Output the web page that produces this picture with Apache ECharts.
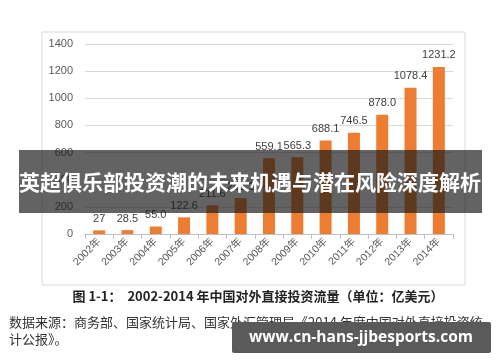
<!DOCTYPE html>
<html>
<head>
<meta charset="utf-8">
<script src="https://cdn.jsdelivr.net/npm/echarts@6/dist/echarts.min.js"></script>
<style>
html,body{margin:0;padding:0;background:#fff;}
#c{width:500px;height:362px;}
</style>
</head>
<body>
<div id="c"></div>
<script>
var categories = ['2002年','2003年','2004年','2005年','2006年','2007年','2008年','2009年','2010年','2011年','2012年','2013年','2014年'];
var values = [27, 28.5, 55.0, 122.6, 211.6, 265.1, 559.1, 565.3, 688.1, 746.5, 878.0, 1078.4, 1231.2];
var valueLabels = ['27','28.5','55.0','122.6','211.6','265.1','559.1','565.3','688.1','746.5','878.0','1078.4','1231.2'];
var bannerTitle = '英超俱乐部投资潮的未来机遇与潜在风险深度解析';
var caption = '图 1-1：  2002-2014 年中国对外直接投资流量（单位：亿美元）';
var source1 = '数据来源：商务部、国家统计局、国家外汇管理局《2014 年度中国对外直接投资统';
var source2 = '计公报》。';
var watermark = 'www.cn-hans-jjbesports.com';

var chart = echarts.init(document.getElementById('c'));
var font = '"Liberation Sans", "Noto Sans CJK SC", sans-serif';
chart.setOption({
  animation: false,
  grid: {left: 85, right: 47, top: 44, bottom: 128},
  xAxis: {
    type: 'category',
    data: categories,
    axisLine: {lineStyle: {color: '#bfbfbf'}},
    axisTick: {show: true, lineStyle: {color: '#bfbfbf'}},
    axisLabel: {rotate: 45, color: '#595959', fontSize: 10.5, fontFamily: font, interval: 0, margin: 6}
  },
  yAxis: {
    type: 'value', min: 0, max: 1400, interval: 200,
    axisLine: {show: false}, axisTick: {show: false},
    axisLabel: {color: '#595959', fontSize: 11, fontFamily: font, margin: 12,
                formatter: function (v) { return String(v); }},
    splitLine: {lineStyle: {color: '#d9d9d9'}}
  },
  series: [{
    type: 'bar',
    data: values,
    barWidth: 12,
    itemStyle: {color: '#ED7D31'},
    label: {
      show: true, position: 'top', distance: 6,
      color: '#404040', fontSize: 11, fontFamily: font,
      formatter: function (p) { return valueLabels[p.dataIndex]; }
    }
  }],
  graphic: [
    {type: 'rect', z: 1, shape: {x: 42, y: 32, width: 423, height: 253},
     style: {fill: 'none', stroke: '#d9d9d9', lineWidth: 1}},
    {type: 'rect', z: 100, shape: {x: 19, y: 150, width: 463, height: 63},
     style: {fill: 'rgba(25,25,25,0.68)'}},
    {type: 'text', z: 101, x: 250, y: 182,
     style: {text: bannerTitle, fill: '#ffffff', font: 'bold 21px "Noto Sans CJK SC", sans-serif',
             align: 'center', verticalAlign: 'middle'}},
    {type: 'text', z: 101, x: 258, y: 296,
     style: {text: caption, fill: '#222222', font: 'bold 13px "Noto Sans CJK SC", sans-serif',
             align: 'center', verticalAlign: 'middle'}},
    {type: 'text', z: 101, x: 9, y: 322,
     style: {text: source1, fill: '#333333', font: '13px "Noto Sans CJK SC", sans-serif',
             align: 'left', verticalAlign: 'middle'}},
    {type: 'text', z: 101, x: 9, y: 339,
     style: {text: source2, fill: '#333333', font: '13px "Noto Sans CJK SC", sans-serif',
             align: 'left', verticalAlign: 'middle'}},
    {type: 'rect', z: 102, shape: {x: 232, y: 322, width: 259, height: 31, r: 2},
     style: {fill: '#5a5a5a'}},
    {type: 'text', z: 103, x: 361, y: 338,
     style: {text: watermark, fill: '#ffffff', font: 'bold 15.5px "Open Sans", sans-serif',
             align: 'center', verticalAlign: 'middle'}}
  ]
});
</script>
</body>
</html>
